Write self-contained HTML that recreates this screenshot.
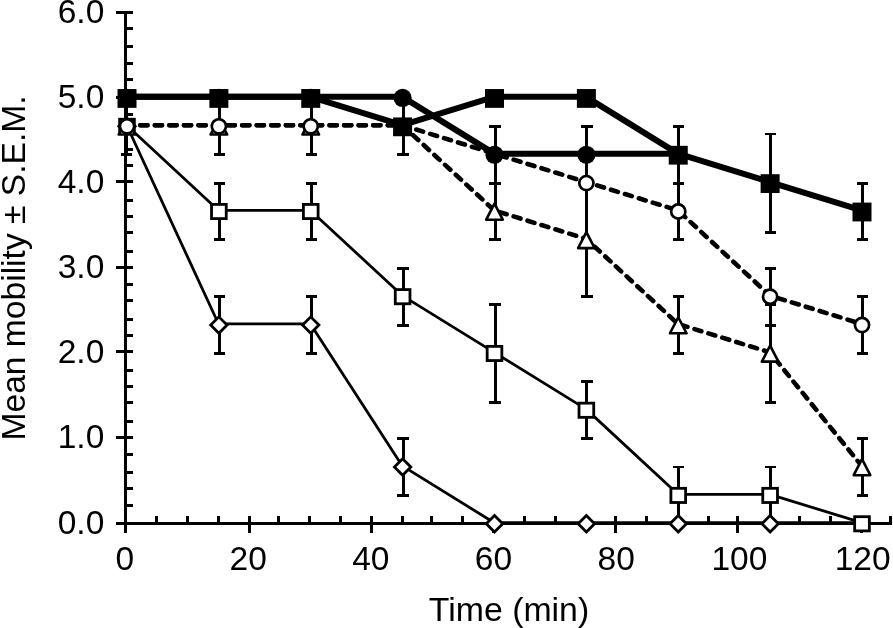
<!DOCTYPE html>
<html><head><meta charset="utf-8"><title>Mean mobility chart</title>
<style>html,body{margin:0;padding:0;background:#fff;}body{width:893px;height:628px;overflow:hidden;font-family:"Liberation Sans",sans-serif;}svg{display:block;will-change:transform;}</style>
</head><body>
<svg width="893" height="628" viewBox="0 0 893 628">
<rect width="893" height="628" fill="#fff"/>
<g fill="#000" shape-rendering="crispEdges">
<rect x="124" y="11" width="3" height="522"/>
<rect x="116" y="522" width="776" height="3"/>
<rect x="116" y="522.00" width="17" height="3"/>
<rect x="126" y="504.00" width="7" height="3"/>
<rect x="126" y="486.50" width="7" height="3"/>
<rect x="126" y="470.80" width="7" height="3"/>
<rect x="126" y="452.90" width="7" height="3"/>
<rect x="116" y="436.00" width="17" height="3"/>
<rect x="126" y="420.00" width="7" height="3"/>
<rect x="126" y="401.00" width="7" height="3"/>
<rect x="126" y="385.00" width="7" height="3"/>
<rect x="126" y="369.00" width="7" height="3"/>
<rect x="116" y="350.00" width="17" height="3"/>
<rect x="126" y="334.00" width="7" height="3"/>
<rect x="126" y="317.60" width="7" height="3"/>
<rect x="126" y="298.70" width="7" height="3"/>
<rect x="126" y="283.00" width="7" height="3"/>
<rect x="116" y="266.00" width="17" height="3"/>
<rect x="126" y="250.00" width="7" height="3"/>
<rect x="126" y="231.30" width="7" height="3"/>
<rect x="126" y="215.00" width="7" height="3"/>
<rect x="126" y="199.00" width="7" height="3"/>
<rect x="116" y="180.00" width="17" height="3"/>
<rect x="126" y="164.00" width="7" height="3"/>
<rect x="126" y="148.00" width="7" height="3"/>
<rect x="126" y="130.20" width="7" height="3"/>
<rect x="126" y="112.90" width="7" height="3"/>
<rect x="116" y="96.10" width="17" height="3"/>
<rect x="126" y="78.00" width="7" height="3"/>
<rect x="126" y="62.10" width="7" height="3"/>
<rect x="126" y="45.00" width="7" height="3"/>
<rect x="126" y="26.80" width="7" height="3"/>
<rect x="116" y="11.00" width="17" height="3"/>
<rect x="124.00" y="516" width="3" height="17"/>
<rect x="155.00" y="516" width="3" height="7"/>
<rect x="186.00" y="516" width="3" height="7"/>
<rect x="217.00" y="516" width="3" height="7"/>
<rect x="248.00" y="516" width="3" height="17"/>
<rect x="277.00" y="516" width="3" height="7"/>
<rect x="307.60" y="516" width="3" height="7"/>
<rect x="338.50" y="516" width="3" height="7"/>
<rect x="369.80" y="516" width="3" height="17"/>
<rect x="400.90" y="516" width="3" height="7"/>
<rect x="429.70" y="516" width="3" height="7"/>
<rect x="460.60" y="516" width="3" height="7"/>
<rect x="492.40" y="516" width="3" height="17"/>
<rect x="523.10" y="516" width="3" height="7"/>
<rect x="554.00" y="516" width="3" height="7"/>
<rect x="584.27" y="516" width="3" height="7"/>
<rect x="613.80" y="516" width="3" height="17"/>
<rect x="644.70" y="516" width="3" height="7"/>
<rect x="676.15" y="516" width="3" height="7"/>
<rect x="706.50" y="516" width="3" height="7"/>
<rect x="735.50" y="516" width="3" height="17"/>
<rect x="768.02" y="516" width="3" height="7"/>
<rect x="798.00" y="516" width="3" height="7"/>
<rect x="828.80" y="516" width="3" height="7"/>
<rect x="860.00" y="516" width="3" height="17"/>
<rect x="889.00" y="516" width="3" height="7"/>
</g>
<g font-family="'Liberation Sans', sans-serif" font-size="33.5" fill="#000">
<text x="104.3" y="533.50" text-anchor="end">0.0</text>
<text x="104.3" y="448.33" text-anchor="end">1.0</text>
<text x="104.3" y="363.16" text-anchor="end">2.0</text>
<text x="104.3" y="277.99" text-anchor="end">3.0</text>
<text x="104.3" y="192.82" text-anchor="end">4.0</text>
<text x="104.3" y="107.65" text-anchor="end">5.0</text>
<text x="104.3" y="23.08" text-anchor="end">6.0</text>
<text x="124.80" y="570" text-anchor="middle">0</text>
<text x="248.17" y="570" text-anchor="middle">20</text>
<text x="370.83" y="570" text-anchor="middle">40</text>
<text x="493.50" y="570" text-anchor="middle">60</text>
<text x="616.16" y="570" text-anchor="middle">80</text>
<text x="739.33" y="570" text-anchor="middle">100</text>
<text x="862.70" y="570" text-anchor="middle">120</text>
<text id="xt" x="428.8" y="621" textLength="160.4" lengthAdjust="spacingAndGlyphs">Time (min)</text>
<text id="yt" transform="translate(25.2 440.5) rotate(-90)" textLength="345.1" lengthAdjust="spacingAndGlyphs">Mean mobility ± S.E.M.</text>
</g>
<g fill="none" stroke="#000" stroke-linejoin="round">
<polyline points="126.70,125.24 218.57,323.97 310.45,323.97 402.32,465.92 494.20,522.70 586.08,522.70 677.95,522.70 769.83,522.70 861.70,522.70" stroke-width="2.8"/>
<polyline points="126.70,125.24 218.57,210.41 310.45,210.41 402.32,295.58 494.20,352.36 586.08,409.14 677.95,494.31 769.83,494.31 861.70,522.70" stroke-width="2.8"/>
<polyline points="126.70,125.24 218.57,125.24 310.45,125.24 402.32,125.24 494.20,210.41 586.08,238.80 677.95,323.97 769.83,352.36 861.70,465.92" stroke-width="4.6" stroke-dasharray="7.2 7.36" stroke-dashoffset="1.0" stroke-linecap="round"/>
<polyline points="126.70,125.24 218.57,125.24 310.45,125.24 402.32,125.24 494.20,153.63 586.08,182.02 677.95,210.41 769.83,295.58 861.70,323.97" stroke-width="4.6" stroke-dasharray="7.2 7.36" stroke-dashoffset="1.0" stroke-linecap="round"/>
<polyline points="126.70,96.85 218.57,96.85 310.45,96.85 402.32,96.85 494.20,153.63 586.08,153.63 677.95,153.63" stroke-width="6"/>
<polyline points="126.70,96.85 218.57,96.85 310.45,96.85 402.32,125.24 494.20,96.85 586.08,96.85 677.95,153.63 769.83,182.02 861.70,210.41" stroke-width="6"/>
</g>
<g fill="#000" shape-rendering="crispEdges">
<rect x="124.80" y="97.95" width="3" height="56.78"/>
<rect x="120.60" y="96.50" width="11.4" height="2.9"/>
<rect x="120.60" y="153.28" width="11.4" height="2.9"/>
<rect x="217.88" y="296.68" width="3" height="56.78"/>
<rect x="213.68" y="295.23" width="11.4" height="2.9"/>
<rect x="213.68" y="352.01" width="11.4" height="2.9"/>
<rect x="309.75" y="296.68" width="3" height="56.78"/>
<rect x="305.55" y="295.23" width="11.4" height="2.9"/>
<rect x="305.55" y="352.01" width="11.4" height="2.9"/>
<rect x="401.62" y="438.63" width="3" height="56.78"/>
<rect x="397.43" y="437.18" width="11.4" height="2.9"/>
<rect x="397.43" y="493.96" width="11.4" height="2.9"/>
<rect x="124.80" y="97.95" width="3" height="56.78"/>
<rect x="120.60" y="96.50" width="11.4" height="2.9"/>
<rect x="120.60" y="153.28" width="11.4" height="2.9"/>
<rect x="217.88" y="183.12" width="3" height="56.78"/>
<rect x="213.68" y="181.67" width="11.4" height="2.9"/>
<rect x="213.68" y="238.45" width="11.4" height="2.9"/>
<rect x="309.75" y="183.12" width="3" height="56.78"/>
<rect x="305.55" y="181.67" width="11.4" height="2.9"/>
<rect x="305.55" y="238.45" width="11.4" height="2.9"/>
<rect x="401.62" y="268.29" width="3" height="56.78"/>
<rect x="397.43" y="266.84" width="11.4" height="2.9"/>
<rect x="397.43" y="323.62" width="11.4" height="2.9"/>
<rect x="493.50" y="304.32" width="3" height="98.29"/>
<rect x="489.30" y="302.87" width="11.4" height="2.9"/>
<rect x="489.30" y="401.15" width="11.4" height="2.9"/>
<rect x="585.38" y="381.85" width="3" height="56.78"/>
<rect x="581.17" y="380.40" width="11.4" height="2.9"/>
<rect x="581.17" y="437.18" width="11.4" height="2.9"/>
<rect x="677.25" y="467.02" width="3" height="56.78"/>
<rect x="673.05" y="465.57" width="11.4" height="2.9"/>
<rect x="769.12" y="467.02" width="3" height="56.78"/>
<rect x="764.92" y="465.57" width="11.4" height="2.9"/>
<rect x="124.80" y="97.95" width="3" height="56.78"/>
<rect x="120.60" y="96.50" width="11.4" height="2.9"/>
<rect x="120.60" y="153.28" width="11.4" height="2.9"/>
<rect x="217.88" y="97.95" width="3" height="56.78"/>
<rect x="213.68" y="96.50" width="11.4" height="2.9"/>
<rect x="213.68" y="153.28" width="11.4" height="2.9"/>
<rect x="309.75" y="97.95" width="3" height="56.78"/>
<rect x="305.55" y="96.50" width="11.4" height="2.9"/>
<rect x="305.55" y="153.28" width="11.4" height="2.9"/>
<rect x="401.62" y="97.95" width="3" height="56.78"/>
<rect x="397.43" y="96.50" width="11.4" height="2.9"/>
<rect x="397.43" y="153.28" width="11.4" height="2.9"/>
<rect x="493.50" y="183.12" width="3" height="56.78"/>
<rect x="489.30" y="181.67" width="11.4" height="2.9"/>
<rect x="489.30" y="238.45" width="11.4" height="2.9"/>
<rect x="585.38" y="183.12" width="3" height="113.56"/>
<rect x="581.17" y="181.67" width="11.4" height="2.9"/>
<rect x="581.17" y="295.23" width="11.4" height="2.9"/>
<rect x="677.25" y="296.68" width="3" height="56.78"/>
<rect x="673.05" y="295.23" width="11.4" height="2.9"/>
<rect x="673.05" y="352.01" width="11.4" height="2.9"/>
<rect x="769.12" y="304.32" width="3" height="98.29"/>
<rect x="764.92" y="302.87" width="11.4" height="2.9"/>
<rect x="764.92" y="401.15" width="11.4" height="2.9"/>
<rect x="861.00" y="438.63" width="3" height="56.78"/>
<rect x="856.80" y="437.18" width="11.4" height="2.9"/>
<rect x="856.80" y="493.96" width="11.4" height="2.9"/>
<rect x="124.80" y="97.95" width="3" height="56.78"/>
<rect x="120.60" y="96.50" width="11.4" height="2.9"/>
<rect x="120.60" y="153.28" width="11.4" height="2.9"/>
<rect x="217.88" y="97.95" width="3" height="56.78"/>
<rect x="213.68" y="96.50" width="11.4" height="2.9"/>
<rect x="213.68" y="153.28" width="11.4" height="2.9"/>
<rect x="309.75" y="97.95" width="3" height="56.78"/>
<rect x="305.55" y="96.50" width="11.4" height="2.9"/>
<rect x="305.55" y="153.28" width="11.4" height="2.9"/>
<rect x="401.62" y="97.95" width="3" height="56.78"/>
<rect x="397.43" y="96.50" width="11.4" height="2.9"/>
<rect x="397.43" y="153.28" width="11.4" height="2.9"/>
<rect x="493.50" y="126.34" width="3" height="56.78"/>
<rect x="489.30" y="124.89" width="11.4" height="2.9"/>
<rect x="489.30" y="181.67" width="11.4" height="2.9"/>
<rect x="677.25" y="183.12" width="3" height="56.78"/>
<rect x="673.05" y="181.67" width="11.4" height="2.9"/>
<rect x="673.05" y="238.45" width="11.4" height="2.9"/>
<rect x="769.12" y="268.29" width="3" height="56.78"/>
<rect x="764.92" y="266.84" width="11.4" height="2.9"/>
<rect x="764.92" y="323.62" width="11.4" height="2.9"/>
<rect x="861.00" y="296.68" width="3" height="56.78"/>
<rect x="856.80" y="295.23" width="11.4" height="2.9"/>
<rect x="856.80" y="352.01" width="11.4" height="2.9"/>
<rect x="493.50" y="126.34" width="3" height="56.78"/>
<rect x="489.30" y="124.89" width="11.4" height="2.9"/>
<rect x="489.30" y="181.67" width="11.4" height="2.9"/>
<rect x="585.38" y="126.34" width="3" height="56.78"/>
<rect x="581.17" y="124.89" width="11.4" height="2.9"/>
<rect x="581.17" y="181.67" width="11.4" height="2.9"/>
<rect x="677.25" y="126.34" width="3" height="56.78"/>
<rect x="673.05" y="124.89" width="11.4" height="2.9"/>
<rect x="673.05" y="181.67" width="11.4" height="2.9"/>
<rect x="401.62" y="97.95" width="3" height="56.78"/>
<rect x="397.43" y="96.50" width="11.4" height="2.9"/>
<rect x="397.43" y="153.28" width="11.4" height="2.9"/>
<rect x="677.25" y="126.34" width="3" height="56.78"/>
<rect x="673.05" y="124.89" width="11.4" height="2.9"/>
<rect x="673.05" y="181.67" width="11.4" height="2.9"/>
<rect x="769.12" y="133.98" width="3" height="98.29"/>
<rect x="764.92" y="132.53" width="11.4" height="2.9"/>
<rect x="764.92" y="230.81" width="11.4" height="2.9"/>
<rect x="861.00" y="183.12" width="3" height="56.78"/>
<rect x="856.80" y="181.67" width="11.4" height="2.9"/>
<rect x="856.80" y="238.45" width="11.4" height="2.9"/>
</g>
<g stroke="#000" stroke-width="2.8" fill="#fff">
<path d="M127.00 118.14L135.20 126.34L127.00 134.54L118.80 126.34Z"/>
<path d="M218.88 316.87L227.07 325.07L218.88 333.27L210.68 325.07Z"/>
<path d="M310.75 316.87L318.95 325.07L310.75 333.27L302.55 325.07Z"/>
<path d="M402.62 458.82L410.82 467.02L402.62 475.22L394.43 467.02Z"/>
<path d="M494.50 515.60L502.70 523.80L494.50 532.00L486.30 523.80Z"/>
<path d="M586.38 515.60L594.58 523.80L586.38 532.00L578.17 523.80Z"/>
<path d="M678.25 515.60L686.45 523.80L678.25 532.00L670.05 523.80Z"/>
<path d="M770.12 515.60L778.33 523.80L770.12 532.00L761.92 523.80Z"/>
<rect x="119.65" y="119.24" width="14.7" height="14.2"/>
<rect x="211.53" y="204.41" width="14.7" height="14.2"/>
<rect x="303.40" y="204.41" width="14.7" height="14.2"/>
<rect x="395.27" y="289.58" width="14.7" height="14.2"/>
<rect x="487.15" y="346.36" width="14.7" height="14.2"/>
<rect x="579.02" y="403.14" width="14.7" height="14.2"/>
<rect x="670.90" y="488.31" width="14.7" height="14.2"/>
<rect x="762.77" y="488.31" width="14.7" height="14.2"/>
<rect x="854.65" y="516.70" width="14.7" height="14.2"/>
<path d="M127.00 118.54L135.30 134.54L118.70 134.54Z" stroke-linejoin="round" stroke-width="2.6"/>
<path d="M218.88 118.54L227.18 134.54L210.57 134.54Z" stroke-linejoin="round" stroke-width="2.6"/>
<path d="M310.75 118.54L319.05 134.54L302.45 134.54Z" stroke-linejoin="round" stroke-width="2.6"/>
<path d="M402.62 118.54L410.93 134.54L394.32 134.54Z" stroke-linejoin="round" stroke-width="2.6"/>
<path d="M494.50 203.71L502.80 219.71L486.20 219.71Z" stroke-linejoin="round" stroke-width="2.6"/>
<path d="M586.38 232.10L594.67 248.10L578.08 248.10Z" stroke-linejoin="round" stroke-width="2.6"/>
<path d="M678.25 317.27L686.55 333.27L669.95 333.27Z" stroke-linejoin="round" stroke-width="2.6"/>
<path d="M770.12 345.66L778.42 361.66L761.83 361.66Z" stroke-linejoin="round" stroke-width="2.6"/>
<path d="M862.00 459.22L870.30 475.22L853.70 475.22Z" stroke-linejoin="round" stroke-width="2.6"/>
<circle cx="127.00" cy="126.34" r="7.1" stroke-width="2.7"/>
<circle cx="218.88" cy="126.34" r="7.1" stroke-width="2.7"/>
<circle cx="310.75" cy="126.34" r="7.1" stroke-width="2.7"/>
<circle cx="402.62" cy="126.34" r="7.1" stroke-width="2.7"/>
<circle cx="494.50" cy="154.73" r="7.1" stroke-width="2.7"/>
<circle cx="586.38" cy="183.12" r="7.1" stroke-width="2.7"/>
<circle cx="678.25" cy="211.51" r="7.1" stroke-width="2.7"/>
<circle cx="770.12" cy="296.68" r="7.1" stroke-width="2.7"/>
<circle cx="862.00" cy="325.07" r="7.1" stroke-width="2.7"/>
<circle cx="127.00" cy="97.95" r="9.1" fill="#000" stroke="none"/>
<circle cx="218.88" cy="97.95" r="9.1" fill="#000" stroke="none"/>
<circle cx="310.75" cy="97.95" r="9.1" fill="#000" stroke="none"/>
<circle cx="402.62" cy="97.95" r="9.1" fill="#000" stroke="none"/>
<circle cx="494.50" cy="154.73" r="9.1" fill="#000" stroke="none"/>
<circle cx="586.38" cy="154.73" r="9.1" fill="#000" stroke="none"/>
<circle cx="678.25" cy="154.73" r="9.1" fill="#000" stroke="none"/>
<rect x="117.50" y="89.05" width="19" height="18.8" fill="#000" stroke="none"/>
<rect x="209.38" y="89.05" width="19" height="18.8" fill="#000" stroke="none"/>
<rect x="301.25" y="89.05" width="19" height="18.8" fill="#000" stroke="none"/>
<rect x="393.12" y="117.44" width="19" height="18.8" fill="#000" stroke="none"/>
<rect x="485.00" y="89.05" width="19" height="18.8" fill="#000" stroke="none"/>
<rect x="576.88" y="89.05" width="19" height="18.8" fill="#000" stroke="none"/>
<rect x="668.75" y="145.83" width="19" height="18.8" fill="#000" stroke="none"/>
<rect x="760.62" y="174.22" width="19" height="18.8" fill="#000" stroke="none"/>
<rect x="852.50" y="202.61" width="19" height="18.8" fill="#000" stroke="none"/>
</g>
</svg>
</body></html>
